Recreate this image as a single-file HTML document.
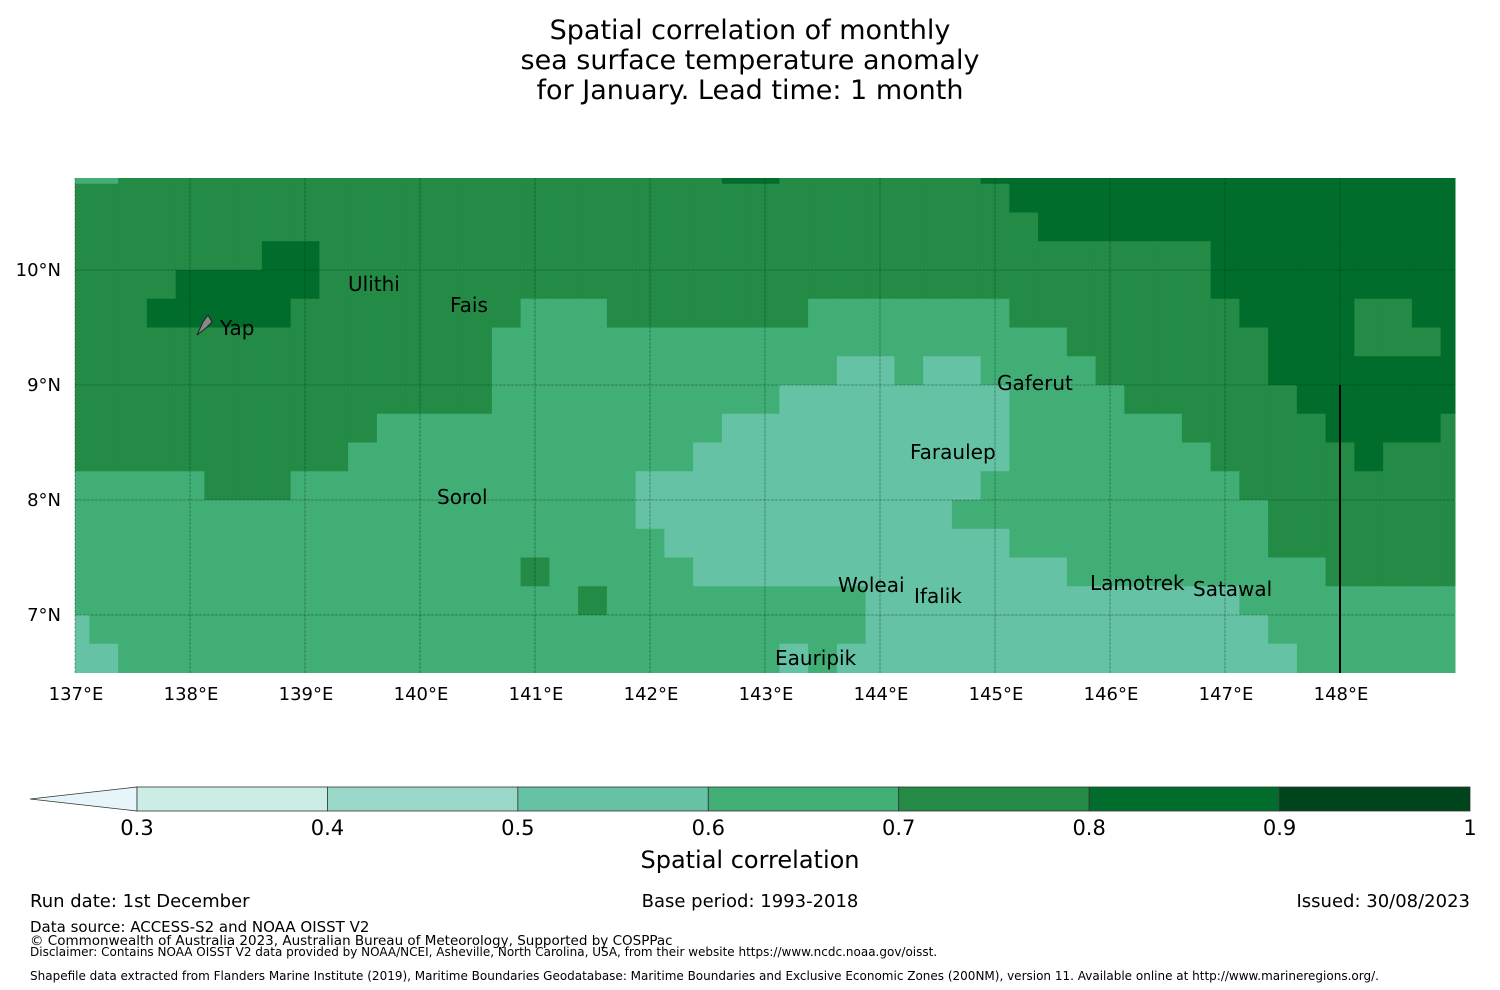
<!DOCTYPE html>
<html><head><meta charset="utf-8"><style>
body{margin:0;background:#fff;}
svg{display:block;font-family:"DejaVu Sans","Liberation Sans",sans-serif;}
</style></head>
<body>
<svg id="chart" width="1500" height="990" viewBox="0 0 1500 990">
<g font-size="27" text-anchor="middle" fill="#000">
<text x="750" y="39">Spatial correlation of monthly</text>
<text x="750" y="69">sea surface temperature anomaly</text>
<text x="750" y="99"> for January. Lead time: 1 month</text>
</g>
<g id="cells"></g>
<g id="grid"></g>
<g id="ticks" font-size="18" fill="#000"></g>
<line x1="1340" y1="385" x2="1340" y2="673" stroke="#000" stroke-width="2"/>
<g><path d="M197,335 L203,322 L208,315 L212,322 L206,328 Z" fill="#888" stroke="#222" stroke-width="1"/></g>
<g font-size="20" fill="#000">
<text x="220" y="335">Yap</text>
<text x="348" y="291">Ulithi</text>
<text x="450" y="312">Fais</text>
<text x="997" y="390">Gaferut</text>
<text x="910" y="459">Faraulep</text>
<text x="437" y="504">Sorol</text>
<text x="838" y="592">Woleai</text>
<text x="914" y="603">Ifalik</text>
<text x="1090" y="590">Lamotrek</text>
<text x="1193" y="596">Satawal</text>
<text x="775" y="665">Eauripik</text>
</g>
<g id="colorbar"></g>
<text x="750" y="868" font-size="24" text-anchor="middle">Spatial correlation</text>
<g fill="#000">
<text x="30" y="907" font-size="18">Run date: 1st December</text>
<text x="750" y="907" font-size="18" text-anchor="middle">Base period: 1993-2018</text>
<text x="1470" y="907" font-size="18" text-anchor="end">Issued: 30/08/2023</text>
<text x="30" y="932" font-size="15">Data source: ACCESS-S2 and NOAA OISST V2</text>
<text x="30" y="945" font-size="13.5">© Commonwealth of Australia 2023, Australian Bureau of Meteorology, Supported by COSPPac</text>
<text x="30" y="956" font-size="12">Disclaimer: Contains NOAA OISST V2 data provided by NOAA/NCEI, Asheville, North Carolina, USA, from their website https://www.ncdc.noaa.gov/oisst.</text>
<text x="30" y="980" font-size="12">Shapefile data extracted from Flanders Marine Institute (2019), Maritime Boundaries Geodatabase: Maritime Boundaries and Exclusive Economic Zones (200NM), version 11. Available online at http://www.marineregions.org/.</text>
</g>
</svg>
<script>
// Row-by-row correlation values (north to south), run-length: [value, count]
const rowsRLE = [
 [[0.65,2],[0.75,21],[0.85,2],[0.75,7],[0.85,17]],
 [[0.75,33],[0.85,16]],
 [[0.75,34],[0.85,15]],
 [[0.75,7],[0.85,2],[0.75,31],[0.85,9]],
 [[0.75,4],[0.85,5],[0.75,31],[0.85,9]],
 [[0.75,3],[0.85,5],[0.75,8],[0.65,3],[0.75,7],[0.65,7],[0.75,8],[0.85,4],[0.75,2],[0.85,2]],
 [[0.75,15],[0.65,20],[0.75,7],[0.85,3],[0.75,3],[0.85,1]],
 [[0.75,15],[0.65,12],[0.55,2],[0.65,1],[0.55,2],[0.65,4],[0.75,6],[0.85,7]],
 [[0.75,15],[0.65,10],[0.55,8],[0.65,4],[0.75,6],[0.85,6]],
 [[0.75,11],[0.65,12],[0.55,10],[0.65,6],[0.75,5],[0.85,4],[0.75,1]],
 [[0.75,10],[0.65,12],[0.55,11],[0.65,7],[0.75,5],[0.85,1],[0.75,3]],
 [[0.65,5],[0.75,3],[0.65,12],[0.55,12],[0.65,9],[0.75,8]],
 [[0.65,20],[0.55,11],[0.65,11],[0.75,7]],
 [[0.65,21],[0.55,12],[0.65,9],[0.75,7]],
 [[0.65,16],[0.75,1],[0.65,5],[0.55,13],[0.65,9],[0.75,5]],
 [[0.65,18],[0.75,1],[0.65,9],[0.55,13],[0.65,8]],
 [[0.55,1],[0.65,27],[0.55,14],[0.65,7]],
 [[0.55,2],[0.65,23],[0.55,1],[0.65,1],[0.55,16],[0.65,6]]
];
const lonTicks = [137,138,139,140,141,142,143,144,145,146,147,148];
const latTicks = [10,9,8,7];
const cbLevels = [0.3,0.4,0.5,0.6,0.7,0.8,0.9,1];
const cbLabels = ["0.3","0.4","0.5","0.6","0.7","0.8","0.9","1"];

const LON0=137, LON1=149, LAT0=6.5, LAT1=10.8, RES=0.25, LONSTART=136.875, LATSTART=11.0;
const X = lon => 75 + (lon-137)*115;
const Y = lat => 270 + (10-lat)*115;
const colorFor = v => v<0.3?'#e5f5f9':v<0.4?'#ccece6':v<0.5?'#99d8c9':v<0.6?'#66c2a4':v<0.7?'#41ae76':v<0.8?'#238b45':v<0.9?'#006d2c':'#00441b';
const NS='http://www.w3.org/2000/svg';
const cells=document.getElementById('cells');
rowsRLE.forEach((runs,r)=>{
  const latTop=Math.min(LAT1, LATSTART-RES*r), latBot=Math.max(LAT0, LATSTART-RES*(r+1));
  let c=0;
  runs.forEach(([v,n])=>{
    for(let i=0;i<n;i++,c++){
      const l = c===0?LON0:LONSTART+RES*c, rr = Math.min(LON1, LONSTART+RES*(c+1));
      const rect=document.createElementNS(NS,'rect');
      rect.setAttribute('x',X(Math.max(LON0,l)));
      rect.setAttribute('y',Y(latTop));
      rect.setAttribute('width',X(rr)-X(Math.max(LON0,l))+0.5);
      rect.setAttribute('height',Y(latBot)-Y(latTop)+0.5);
      rect.setAttribute('fill',colorFor(v));
      
      
      cells.appendChild(rect);
    }
  });
});
const grid=document.getElementById('grid'), ticks=document.getElementById('ticks');
lonTicks.forEach(t=>{
  const ln=document.createElementNS(NS,'line');
  ln.setAttribute('x1',X(t));ln.setAttribute('x2',X(t));ln.setAttribute('y1',178);ln.setAttribute('y2',673);
  ln.setAttribute('stroke','rgba(0,40,20,0.3)');ln.setAttribute('stroke-width','1.2');ln.setAttribute('stroke-dasharray','3,1');
  
  
  grid.appendChild(ln);
  const tx=document.createElementNS(NS,'text');
  tx.setAttribute('x',X(t)+1);tx.setAttribute('y',700);tx.setAttribute('text-anchor','middle');
  tx.textContent=t+'°E';
  
  
  ticks.appendChild(tx);
});
latTicks.forEach(t=>{
  const ln=document.createElementNS(NS,'line');
  ln.setAttribute('x1',75);ln.setAttribute('x2',1455);ln.setAttribute('y1',Y(t));ln.setAttribute('y2',Y(t));
  ln.setAttribute('stroke','rgba(0,40,20,0.35)');ln.setAttribute('stroke-width','1');ln.setAttribute('stroke-dasharray','3,1');
  
  
  grid.appendChild(ln);
  const tx=document.createElementNS(NS,'text');
  tx.setAttribute('x',61);tx.setAttribute('y',Y(t)+6);tx.setAttribute('text-anchor','end');
  tx.textContent=t+'°N';
  
  
  ticks.appendChild(tx);
});
// colorbar
const cb=document.getElementById('colorbar');
const CX = v => 137 + (v-0.3)/(0.7)*1333;
const tri=document.createElementNS(NS,'polygon');
tri.setAttribute('points',`30,799 ${CX(0.3)},787 ${CX(0.3)},811`);
tri.setAttribute('fill','#e5f5f9');tri.setAttribute('stroke','#333');tri.setAttribute('stroke-width','0.8');


cb.appendChild(tri);
for(let i=0;i<cbLevels.length-1;i++){
  const r=document.createElementNS(NS,'rect');
  r.setAttribute('x',CX(cbLevels[i]));r.setAttribute('y',787);
  r.setAttribute('width',CX(cbLevels[i+1])-CX(cbLevels[i]));r.setAttribute('height',24);
  r.setAttribute('fill',colorFor((cbLevels[i]+cbLevels[i+1])/2));r.setAttribute('stroke','#333');r.setAttribute('stroke-width','0.8');
  
  
  cb.appendChild(r);
}
cbLevels.forEach((v,i)=>{
  const t=document.createElementNS(NS,'text');
  t.setAttribute('x',CX(v));t.setAttribute('y',835);t.setAttribute('text-anchor','middle');t.setAttribute('font-size','21');
  t.textContent=cbLabels[i];
  
  
  cb.appendChild(t);
});
</script>
</body></html>
